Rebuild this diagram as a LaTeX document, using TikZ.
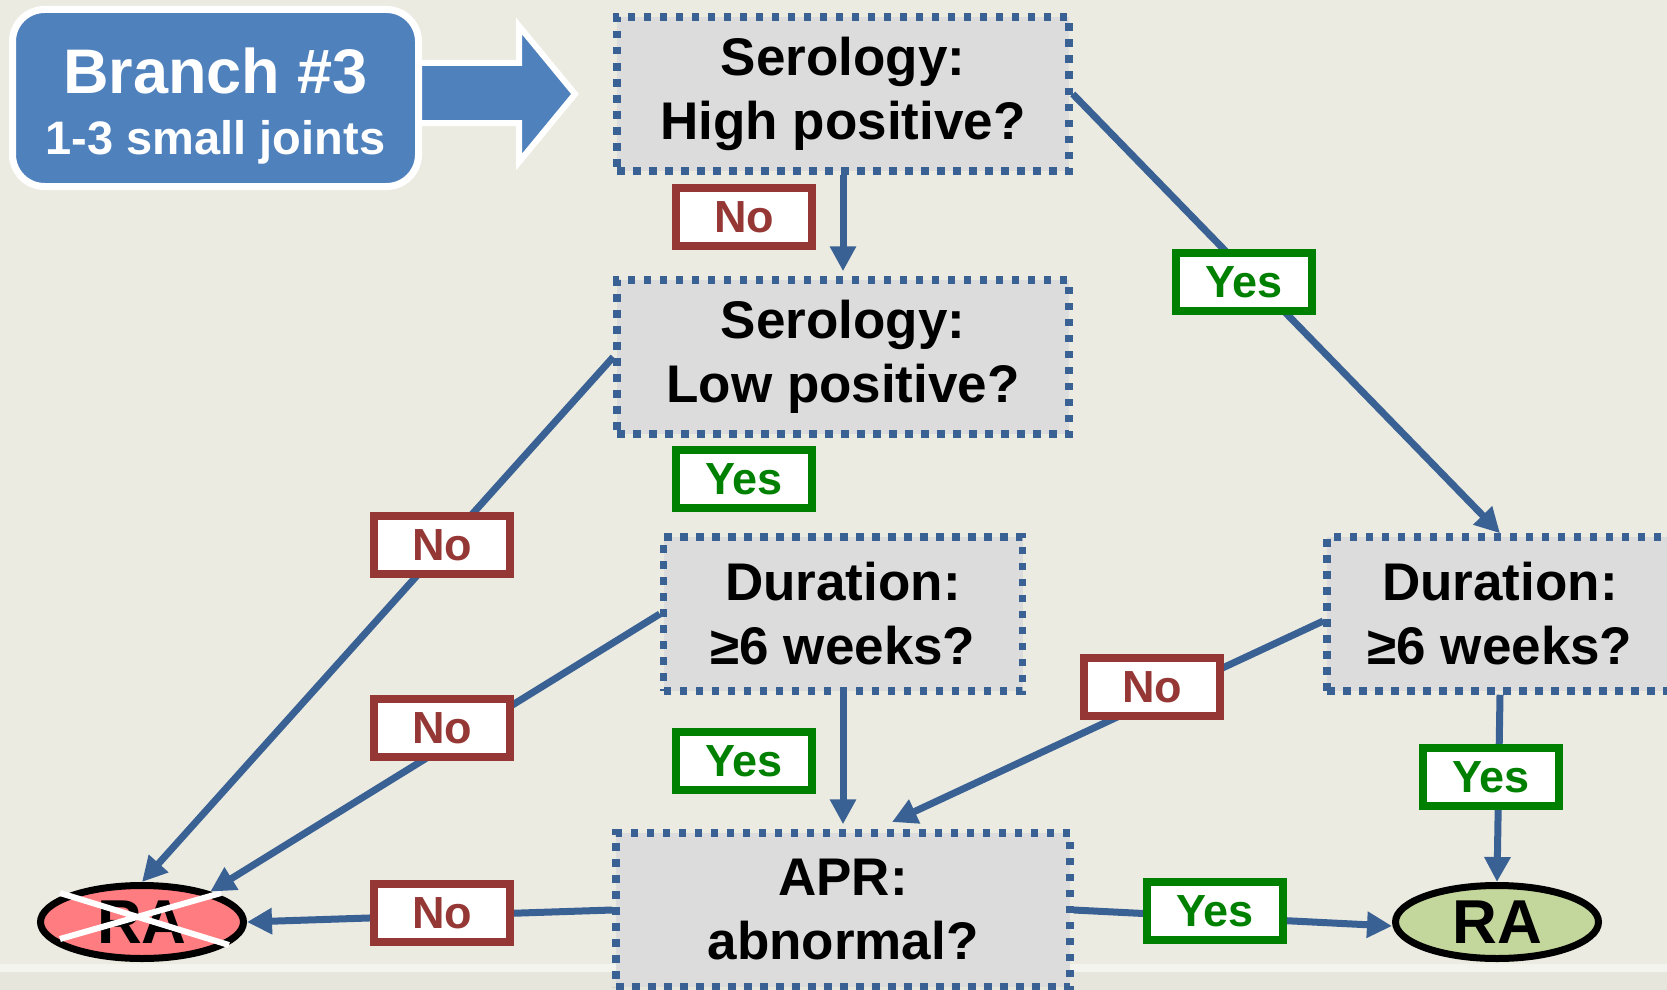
\documentclass[tikz,border=0pt]{standalone}
\usepackage{fontspec}
\setmainfont{Liberation Sans}
\usetikzlibrary{arrows.meta,shapes.geometric,calc}

\definecolor{bgbeige}{HTML}{ECEBE1}
\definecolor{bgband}{HTML}{F3F4EE}
\definecolor{bglow}{HTML}{E6E6DC}
\definecolor{branchblue}{HTML}{4F81BD}
\definecolor{lineblue}{HTML}{3A6194}
\definecolor{boxgray}{HTML}{DCDCDC}
\definecolor{nored}{HTML}{953735}
\definecolor{yesgreen}{HTML}{008000}
\definecolor{rared}{HTML}{FF7C80}
\definecolor{ragreen}{HTML}{C3D69B}

\tikzset{
  qbox/.style={draw=lineblue, fill=boxgray, line width=7.5pt,
    dash pattern=on 7.5pt off 8.5pt, minimum height=154pt, inner sep=0pt,
    align=center, font=\fontsize{53}{64}\selectfont\bfseries},
  lbl/.style={fill=white, line width=7.5pt, minimum width=136pt,
    minimum height=58pt, inner sep=0pt, font=\fontsize{45}{50}\selectfont\bfseries},
  nolbl/.style={lbl, draw=nored, text=nored},
  yeslbl/.style={lbl, draw=yesgreen, text=yesgreen},
  conn/.style={draw=lineblue, line width=7pt,
    -{Triangle[length=25pt,width=25pt]}},
  verdict/.style={ellipse, draw=black, line width=7pt, minimum width=203pt,
    minimum height=73pt, inner sep=0pt, font=\fontsize{62}{62}\selectfont\bfseries}
}

\begin{document}
\begin{tikzpicture}[x=1pt,y=-1pt]
  \useasboundingbox (0,0) rectangle (1667,990);
  % slide background with the footer rule
  \fill[bgbeige] (0,0) rectangle (1667,990);
  \fill[bglow] (0,972) rectangle (1667,990);
  \fill[bgband] (0,964) rectangle (1667,972);

  % block arrow out of the branch box
  \filldraw[fill=branchblue, draw=white, line width=6pt, line join=miter]
    (418,63) -- (519,63) -- (519,26) -- (575,94) -- (519,162) -- (519,123)
    -- (418,123) -- cycle;

  % branch box
  \node[draw=white, fill=branchblue, line width=7pt, rounded corners=32pt,
        minimum width=406pt, minimum height=177pt, inner sep=0pt] (br) at (215.5,98) {};
  \node[text=white, align=center, inner sep=0pt,
        font=\fontsize{47}{61}\selectfont\bfseries] (brtext) at ([yshift=-8pt]br.center)
    {{\fontsize{63}{63}\selectfont Branch \#3}\\1-3 small joints};

  % question boxes
  \node[qbox, minimum width=452pt] (hp)  at (843,94)  {Serology:\\High positive?};
  \node[qbox, minimum width=452pt] (lp)  at (843,357) {Serology:\\Low positive?};
  \node[qbox, minimum width=359pt] (d1)  at (843,614) {Duration:\\≥6 weeks?};
  \node[qbox, minimum width=346pt] (d2)  at (1500,614) {Duration:\\≥6 weeks?};
  \node[qbox, minimum width=454pt] (apr) at (843,910) {APR:\\abnormal?};

  % outcomes
  \node[verdict, fill=rared]   (RAx) at (142,922)  {RA};
  \node[verdict, fill=ragreen] (RAg) at (1497,922) {RA};
  \draw[white, line width=6pt]
    ($(RAx)+(-82,-29)$) -- ($(RAx)+(87,23)$)
    ($(RAx)+(-82,17)$) -- ($(RAx)+(79,-29)$);

  % connectors
  \coordinate (aprin) at (892,822);
  \draw[conn, shorten >=5pt] (hp.south) -- (lp.north);
  \draw[conn] (hp.east) -- (d2.north);
  \draw[conn] (lp.west) -- (RAx.north);
  \draw[conn] (d1.west) -- (RAx.24);
  \draw[conn] (apr.west) -- (RAx.east);
  \draw[conn] ([yshift=-7pt]d2.west) -- (aprin);
  \draw[conn] (apr.east) -- ([yshift=-4pt]RAg.west);
  \draw[conn] (d2.south) -- (RAg.north);
  \draw[conn, shorten >=5pt] (d1.south) -- (apr.north);

  % answer labels
  \node[nolbl]  (n1) at (744,217)  {No};
  \node[yeslbl] (y1) at (744,479)  {Yes};
  \node[yeslbl] (y2) at (744,761)  {Yes};
  \node[nolbl]  (n2) at (442,545)  {No};
  \node[nolbl]  (n3) at (442,728)  {No};
  \node[nolbl]  (n4) at (442,913)  {No};
  \node[yeslbl] (y3) at (1244,282) {Yes};
  \node[nolbl]  (n5) at (1152,687) {No};
  \node[yeslbl] (y4) at (1491,777) {Yes};
  \node[yeslbl] (y5) at (1215,911) {Yes};
\end{tikzpicture}
\end{document}
